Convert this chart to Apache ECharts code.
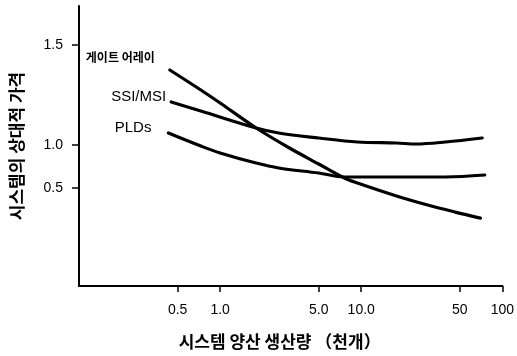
<!DOCTYPE html>
<html>
<head>
<meta charset="utf-8">
<script src="https://cdn.jsdelivr.net/npm/echarts@6/dist/echarts.min.js"></script>
<style>
  html, body { margin: 0; padding: 0; background: #fff; }
  #chart { width: 517px; height: 356px; }
</style>
</head>
<body>
<div id="chart"></div>
<script>
// values (x = volume in thousands, y = relative price)
const gateX = [0.44, 0.73, 1.0, 1.8, 3.1, 5.0, 7.6, 9.4, 17.8, 28.7, 46.4, 70];
const gateY = [1.375, 1.275, 1.21, 1.085, 0.965, 0.779, 0.616, 0.558, 0.407, 0.308, 0.22, 0.15];

const ssiX = [0.45, 0.73, 1.8, 2.6, 5.0, 9.4, 17.8, 24.5, 39.6, 72];
const ssiY = [1.215, 1.17, 1.085, 1.06, 1.035, 1.015, 1.01, 1.005, 1.015, 1.035];

const pldX = [0.43, 0.73, 1.0, 1.8, 2.6, 5.0, 7.6, 17.8, 39.6, 75];
const pldY = [1.06, 0.988, 0.907, 0.79, 0.733, 0.674, 0.628, 0.628, 0.628, 0.651];

const seriesNames = ['게이트 어레이', 'SSI/MSI', 'PLDs'];

const xTickValues = [0.5, 1, 5, 10, 50, 100];
const xTickLabels = ['0.5', '1.0', '5.0', '10.0', '50', '100'];
const yTickValues = [0.5, 1.0, 1.5];
const yTickLabels = ['0.5', '1.0', '1.5'];

// the original figure's price axis is not evenly spaced:
// 1.0 -> 1.5 takes much more room than 0.5 -> 1.0, so map values onto that scale
function warp(v) {
  return v >= 1 ? 141 + (v - 1) * 200 : 98 + (v - 0.5) * 86;
}

function pairs(xs, ys) {
  return xs.map((x, i) => [x, warp(ys[i])]);
}

const labelOffsets = [[-10, -13], [0, -5], [-12, -5]];
const labelStyles = [
  { fontFamily: 'Noto Sans CJK KR', fontWeight: 'bold', fontSize: 12 },
  { fontFamily: 'Liberation Sans', fontSize: 15 },
  { fontFamily: 'Liberation Sans', fontSize: 15 }
];

const chart = echarts.init(document.getElementById('chart'));

const makeSeries = (name, data, idx) => {
  data[0] = {
    value: data[0],
    label: Object.assign({
      show: true,
      position: 'left',
      distance: 5,
      offset: labelOffsets[idx],
      color: '#000',
      formatter: '{a}'
    }, labelStyles[idx])
  };
  return {
    type: 'line',
    name: name,
    data: data,
    smooth: 0.35,
    showSymbol: true,
    symbol: 'circle',
    symbolSize: 0,
    lineStyle: { color: '#000', width: 3.2, cap: 'round' },
    itemStyle: { color: '#000' },
    silent: true
  };
};

chart.setOption({
  animation: false,
  grid: { left: 76, right: 9, top: 6, bottom: 70 },
  xAxis: {
    type: 'log',
    logBase: 10,
    min: 0.1,
    max: 100,
    name: '시스템 양산 생산량 （천개）',
    nameLocation: 'middle',
    nameGap: 47,
    nameTextStyle: {
      fontFamily: 'Noto Sans CJK KR',
      fontWeight: 'bold',
      fontSize: 17,
      color: '#000',
      padding: [0, 22, 0, 0]
    },
    axisLine: { lineStyle: { color: '#000', width: 2 } },
    axisTick: { customValues: xTickValues, length: 6, lineStyle: { color: '#000', width: 1.5 } },
    axisLabel: {
      customValues: xTickValues,
      margin: 17,
      color: '#000',
      fontFamily: 'Liberation Sans',
      fontSize: 14,
      formatter: v => {
        const i = xTickValues.findIndex(t => Math.abs(t - v) < 1e-6 * t);
        return i >= 0 ? xTickLabels[i] : '';
      }
    },
    splitLine: { show: false },
    minorTick: { show: false }
  },
  yAxis: {
    type: 'value',
    min: 0,
    max: 280,
    name: '시스템의 상대적 가격',
    nameLocation: 'middle',
    nameGap: 54,
    nameTextStyle: {
      fontFamily: 'Noto Sans CJK KR',
      fontWeight: 'bold',
      fontSize: 17,
      color: '#000'
    },
    axisLine: { show: true, lineStyle: { color: '#000', width: 2 } },
    axisTick: { show: true, customValues: yTickValues.map(warp), length: 7, lineStyle: { color: '#000', width: 1.5 } },
    axisLabel: {
      customValues: yTickValues.map(warp),
      margin: 16,
      color: '#000',
      fontFamily: 'Liberation Sans',
      fontSize: 14,
      formatter: v => {
        const i = yTickValues.findIndex(t => Math.abs(warp(t) - v) < 1e-6);
        return i >= 0 ? yTickLabels[i] : '';
      }
    },
    splitLine: { show: false }
  },
  series: [
    makeSeries(seriesNames[0], pairs(gateX, gateY), 0),
    makeSeries(seriesNames[1], pairs(ssiX, ssiY), 1),
    makeSeries(seriesNames[2], pairs(pldX, pldY), 2)
  ]
});
</script>
</body>
</html>
